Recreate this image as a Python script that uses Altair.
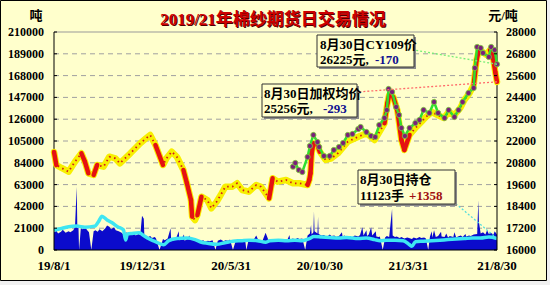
import altair as alt
import pandas as pd

# ---------------- data ----------------
avg_dates = ["2019-08-01","2019-08-05","2019-08-14","2019-08-26","2019-09-06","2019-09-17","2019-09-23","2019-09-29",
 "2019-10-08","2019-10-14","2019-10-25","2019-11-04","2019-11-14","2019-11-22","2019-12-10","2019-12-27",
 "2020-01-06","2020-01-13","2020-01-22","2020-02-04","2020-02-10","2020-02-19","2020-02-28","2020-03-10",
 "2020-03-16","2020-03-23","2020-03-25","2020-03-30","2020-04-03","2020-04-10","2020-04-20","2020-04-27",
 "2020-05-06","2020-05-13","2020-05-21","2020-06-02","2020-06-10","2020-06-19","2020-06-30","2020-07-13",
 "2020-07-21","2020-07-29","2020-08-04","2020-08-10","2020-08-19","2020-09-02","2020-09-14","2020-09-25",
 "2020-10-09","2020-10-12","2020-10-14","2020-10-16","2020-10-19","2020-10-26","2020-10-30","2020-11-09",
 "2020-11-19","2020-11-30","2020-12-17","2021-01-04","2021-01-18","2021-02-01","2021-02-18","2021-02-23",
 "2021-02-26","2021-03-05","2021-03-12","2021-03-19","2021-03-24","2021-04-02","2021-04-12","2021-04-22",
 "2021-04-30","2021-05-10","2021-05-20","2021-05-31","2021-06-08","2021-06-18","2021-06-28","2021-07-05",
 "2021-07-14","2021-07-21","2021-07-26","2021-07-30","2021-08-05","2021-08-12","2021-08-18","2021-08-23",
 "2021-08-27","2021-08-30"]
avg_values = [21395,20679,20514,20310,20861,21323,20861,20222,
 20129,20679,20586,21136,21048,20773,21323,21874,
 22149,22331,21780,20679,21048,21411,21120,20404,
 19672,18753,17833,17652,17927,18934,18753,18296,
 18659,19028,19485,19485,19672,19303,19209,19578,
 19485,19121,18846,19947,19760,19854,19672,19672,
 19578,19854,20222,21323,21874,21780,21411,20955,
 21048,21323,21962,22237,22424,22056,22975,24076,
 24533,24423,23707,22056,21505,22331,22716,23046,
 23322,23597,23432,23267,23597,23432,23817,24258,
 24643,25083,26460,27010,26900,26735,27010,26625,
 25799,25256]

cy_dates = ["2020-09-14","2020-09-18","2020-09-24","2020-09-30","2020-10-09","2020-10-13","2020-10-19","2020-10-26",
 "2020-10-29","2020-11-06","2020-11-16","2020-11-23","2020-12-02","2020-12-09","2020-12-17","2020-12-25",
 "2021-01-04","2021-01-08","2021-01-18","2021-01-26","2021-02-02","2021-02-09","2021-02-18","2021-02-22",
 "2021-02-25","2021-03-03","2021-03-10","2021-03-15","2021-03-19","2021-03-25","2021-04-02","2021-04-12",
 "2021-04-19","2021-04-26","2021-05-06","2021-05-14","2021-05-21","2021-06-01","2021-06-08","2021-06-18",
 "2021-06-25","2021-07-02","2021-07-12","2021-07-21","2021-07-23","2021-07-27","2021-08-02","2021-08-06",
 "2021-08-16","2021-08-20","2021-08-26","2021-08-30"]
cy_values = [20586,20789,20404,20294,21120,21725,22331,21945,
 21670,21175,21175,21505,21670,21890,22331,22386,
 22661,22771,22496,22276,22221,22881,23267,23707,
 24863,24698,23872,23432,22716,22276,22716,22991,
 23157,23707,23542,24147,23542,23267,23707,23322,
 23707,24147,24643,24918,26019,27175,27120,26845,
 26625,27175,27010,26225]

vol_dates = ["2019-08-01","2019-08-05","2019-08-08","2019-08-13","2019-08-16","2019-08-21","2019-08-26","2019-08-29",
 "2019-09-03","2019-09-06","2019-09-09","2019-09-10","2019-09-12","2019-09-13","2019-09-16","2019-09-19",
 "2019-09-24","2019-09-27","2019-09-30","2019-10-04","2019-10-08","2019-10-11","2019-10-15","2019-10-18",
 "2019-10-23","2019-10-28","2019-10-31","2019-11-04","2019-11-07","2019-11-12","2019-11-15","2019-11-20",
 "2019-11-25","2019-11-28","2019-12-03","2019-12-06","2019-12-11","2019-12-16","2019-12-19","2019-12-24",
 "2019-12-27","2019-12-30","2020-01-02","2020-01-03","2020-01-08","2020-01-13","2020-01-16","2020-01-21",
 "2020-01-23","2020-01-29","2020-02-04","2020-02-07","2020-02-12","2020-02-17","2020-02-18","2020-02-21",
 "2020-02-26","2020-03-02","2020-03-03","2020-03-06","2020-03-11","2020-03-12","2020-03-17","2020-03-20",
 "2020-03-23","2020-03-26","2020-03-31","2020-04-03","2020-04-08","2020-04-13","2020-04-16","2020-04-21",
 "2020-04-24","2020-04-29","2020-05-04","2020-05-08","2020-05-13","2020-05-18","2020-05-21","2020-05-26",
 "2020-05-29","2020-06-03","2020-06-08","2020-06-11","2020-06-16","2020-06-19","2020-06-24","2020-06-26",
 "2020-06-30","2020-07-03","2020-07-08","2020-07-13","2020-07-16","2020-07-21","2020-07-24","2020-07-29",
 "2020-08-03","2020-08-06","2020-08-11","2020-08-14","2020-08-19","2020-08-24","2020-08-27","2020-09-01",
 "2020-09-04","2020-09-08","2020-09-09","2020-09-14","2020-09-17","2020-09-22","2020-09-25","2020-09-30",
 "2020-10-05","2020-10-09","2020-10-13","2020-10-15","2020-10-16","2020-10-19","2020-10-20","2020-10-21",
 "2020-10-26","2020-10-27","2020-10-28","2020-11-02","2020-11-06","2020-11-11","2020-11-16","2020-11-19",
 "2020-11-24","2020-11-27","2020-12-02","2020-12-07","2020-12-08","2020-12-11","2020-12-16","2020-12-21",
 "2020-12-24","2020-12-29","2021-01-04","2021-01-07","2021-01-11","2021-01-13","2021-01-18","2021-01-19",
 "2021-01-22","2021-01-26","2021-01-28","2021-02-03","2021-02-04","2021-02-08","2021-02-10","2021-02-15",
 "2021-02-19","2021-02-22","2021-02-26","2021-03-03","2021-03-04","2021-03-08","2021-03-11","2021-03-16",
 "2021-03-19","2021-03-24","2021-03-29","2021-04-01","2021-04-06","2021-04-09","2021-04-14","2021-04-19",
 "2021-04-22","2021-04-27","2021-04-30","2021-05-04","2021-05-07","2021-05-10","2021-05-11","2021-05-14",
 "2021-05-17","2021-05-21","2021-05-26","2021-05-27","2021-06-01","2021-06-04","2021-06-07","2021-06-10",
 "2021-06-16","2021-06-18","2021-06-21","2021-06-24","2021-06-29","2021-07-02","2021-07-07","2021-07-08",
 "2021-07-13","2021-07-16","2021-07-21","2021-07-27","2021-07-29","2021-07-30","2021-08-02","2021-08-06",
 "2021-08-10","2021-08-13","2021-08-16","2021-08-19","2021-08-24","2021-08-26","2021-08-30"]
vol_values = [17000,18500,16000,17500,19500,16500,18000,17000,
 19000,22000,61000,21000,22000,0,21000,20000,
 21500,19000,17000,0,18000,19000,17500,20000,
 18000,21000,23500,22500,20000,22000,19000,18000,
 16500,15000,17000,14500,16000,17000,14000,15500,
 14500,33000,30000,13500,12000,13500,11500,12500,
 11000,0,10500,9500,11000,21000,10000,9000,
 10500,18000,9500,10000,15000,9000,10500,14000,
 9500,11000,9000,10000,8500,9500,8000,9000,
 8500,9500,0,9000,10000,8500,9500,9000,
 10000,0,9500,10000,9000,10500,9500,0,
 10000,9500,9500,14000,10000,9000,9500,16500,
 9500,10000,9000,10500,9500,9500,10500,10000,
 9500,14500,10000,11000,10000,11500,10500,11000,
 0,14000,16000,24000,15000,17000,37000,18000,
 16000,32000,15500,14000,14500,12500,15000,13500,
 14000,12500,13500,17000,13000,14000,12500,13500,
 12000,14000,13000,14500,22000,14000,19000,13500,
 15000,22000,14000,18000,13000,12500,13000,0,
 12000,13500,12500,39500,14000,12500,13000,11500,
 12500,11000,12000,11500,10500,12000,11000,12500,
 11500,12000,11000,0,13000,18000,12000,19000,
 12500,13500,17500,13000,12500,16000,12000,13500,
 12500,17000,12000,13000,14000,12500,15500,13000,
 14000,13500,15000,15500,48000,27000,16000,17000,
 15000,19000,15500,16500,15000,18000,15000]

oi_dates = ["2019-08-01","2019-08-12","2019-08-26","2019-09-09","2019-09-23","2019-10-10","2019-10-17","2019-10-22",
 "2019-10-31","2019-11-08","2019-11-18","2019-11-28","2019-12-02","2019-12-05","2019-12-13","2019-12-25",
 "2020-01-03","2020-01-10","2020-01-20","2020-02-05","2020-02-14","2020-02-28","2020-03-16","2020-03-30",
 "2020-04-10","2020-04-20","2020-05-06","2020-05-20","2020-06-03","2020-06-17","2020-07-01","2020-07-15",
 "2020-07-29","2020-08-05","2020-08-20","2020-09-03","2020-09-17","2020-09-30","2020-10-12","2020-10-20",
 "2020-11-02","2020-11-16","2020-12-01","2020-12-15","2021-01-04","2021-01-18","2021-02-01","2021-02-10",
 "2021-02-22","2021-03-08","2021-03-22","2021-04-02","2021-04-06","2021-04-12","2021-04-26","2021-05-10",
 "2021-05-24","2021-06-07","2021-06-21","2021-07-05","2021-07-19","2021-08-02","2021-08-16","2021-08-30"]
oi_values = [19000,20500,22400,23000,22000,23000,28000,32500,
 29000,26500,22500,19500,9600,15500,16000,16500,
 13500,11000,8500,5000,9000,11000,11500,10000,
 7500,6500,5500,7000,8500,9000,9500,9000,
 7500,9000,9500,9000,9500,9000,11000,13000,
 12500,12000,11500,12000,11000,11500,10000,9000,
 9500,9500,9000,5000,3500,8000,8500,9000,
 9500,10000,10500,11000,11500,11500,12500,11123]

x_tick_dates = ["2019-08-01", "2019-12-31", "2020-05-31", "2020-10-30", "2021-03-31", "2021-08-30"]
x_tick_labels = ["19/8/1", "19/12/31", "20/5/31", "20/10/30", "21/3/31", "21/8/30"]
left_ticks = [0, 21000, 42000, 63000, 84000, 105000, 126000, 147000, 168000, 189000, 210000]
right_ticks = [16000, 17200, 18400, 19600, 20800, 22000, 23200, 24400, 25600, 26800, 28000]

title_text = "2019/21年棉纱期货日交易情况"
cy_box = ["8月30日CY109价", "26225元,", "-170"]
avg_box = ["8月30日加权均价", "25256元,", "-293"]
oi_box = ["8月30日持仓", "11123手", "+1358"]

# ---------------- frames ----------------
start = pd.Timestamp(x_tick_dates[0])

def day(s):
    return (pd.to_datetime(pd.Series(s)) - start).dt.days

avg = pd.DataFrame({"t": day(avg_dates), "price": avg_values})
cy = pd.DataFrame({"t": day(cy_dates), "price": cy_values})
vol = pd.DataFrame({"t": day(vol_dates), "v": vol_values})
oi = pd.DataFrame({"t": day(oi_dates), "oi": oi_values})
xt = pd.DataFrame({"t": day(x_tick_dates), "lab": x_tick_labels})

SERIF = "Liberation Serif, Noto Sans CJK SC"
BG = "#ffffcc"
W, H = 443, 218

T0 = int(xt["t"].iloc[0])
T1 = int(xt["t"].iloc[-1])
TICK = 3 * (T1 - T0) / W      # 3 px expressed in days

def hlines(values, t0, t1):
    rows = []
    for i, v in enumerate(values):
        rows.append({"t": t0, "v": v, "g": i, "o": 0})
        rows.append({"t": t1, "v": v, "g": i, "o": 1})
    return pd.DataFrame(rows)

lt = pd.DataFrame({"v": left_ticks})
rt = pd.DataFrame({"v": right_ticks})
lt_lines = hlines(left_ticks, T0, T0 + TICK)
rt_lines = hlines(right_ticks, T1 - TICK, T1)
gd_lines = hlines(left_ticks[1:-1], T0, T1)
top_line = hlines([left_ticks[-1]], T0, T1)
bottom_line = hlines([left_ticks[0]], T0, T1)
side_lines = pd.DataFrame({"t": [T0, T0, T1, T1],
                           "v": [left_ticks[0], left_ticks[-1], left_ticks[0], left_ticks[-1]],
                           "g": [0, 0, 1, 1], "o": [0, 1, 0, 1]})

seg = avg.copy()
seg["t2"] = avg["t"].shift(-1)
seg["price2"] = avg["price"].shift(-1)
seg = seg.dropna()
seg = seg[(seg["price2"] - seg["price"]).abs() / (seg["t2"] - seg["t"]) > 70]

xscale = alt.Scale(domain=[T0, T1], nice=False, zero=False)
lscale = alt.Scale(domain=[left_ticks[0], left_ticks[-1]], nice=False, zero=False)
rscale = alt.Scale(domain=[right_ticks[0], right_ticks[-1]], nice=False, zero=False)

def X(field="t"):
    return alt.X(f"{field}:Q", scale=xscale, axis=None)

def YL(field):
    return alt.Y(f"{field}:Q", scale=lscale, axis=None)

def YR(field):
    return alt.Y(f"{field}:Q", scale=rscale, axis=None)

one = pd.DataFrame({"k": [0]})

def box(x1, y1, x2, y2):
    sh = alt.Chart(one).mark_rect(fill="#8a8a8a").encode(
        x=alt.value(x1 + 2), x2=alt.value(x2 + 2), y=alt.value(y1 + 2), y2=alt.value(y2 + 2))
    bx = alt.Chart(one).mark_rect(fill=BG, stroke="#333333", strokeWidth=1).encode(
        x=alt.value(x1), x2=alt.value(x2), y=alt.value(y1), y2=alt.value(y2))
    return [sh, bx]

def txt(s, x, y, color="black", size=13, align="left"):
    return alt.Chart(one).mark_text(text=s, font=SERIF, fontWeight="bold", fontSize=size,
                                    color=color, align=align, baseline="alphabetic").encode(
        x=alt.value(x), y=alt.value(y))

def guide(df, Y, color, dash=None):
    kw = dict(color=color, strokeWidth=1)
    if dash:
        kw["strokeDash"] = dash
    return alt.Chart(df).mark_line(**kw).encode(
        x=X("t"), y=Y("v"), detail=alt.Detail("g:N"), order=alt.Order("o:Q"))

# ---------- left-axis group (volume / open interest) ----------
grid = guide(gd_lines, YL, "#a0a0a0", dash=[5, 4])
top = guide(top_line, YL, "#999999")
ltick = guide(lt_lines, YL, "black")
sides = guide(side_lines, YL, "black")
bottom = guide(bottom_line, YL, "black")
llab = alt.Chart(lt).mark_text(font=SERIF, fontWeight="bold", fontSize=12, color="black",
                               align="right", baseline="middle").encode(
    y=YL("v"), x=alt.value(-10), text=alt.Text("v:Q", format="d"))
xlab = alt.Chart(xt).mark_text(font=SERIF, fontWeight="bold", fontSize=13, color="black",
                               align="center", baseline="top").encode(
    x=X(), y=alt.value(H + 10), text="lab:N")

vol_area = alt.Chart(vol).mark_area(color="#0b0bcc", interpolate="linear").encode(
    x=X(), y=YL("v"))
oi_line = alt.Chart(oi).mark_line(color="#3ee6f2", strokeWidth=3.5, interpolate="monotone").encode(
    x=X(), y=YL("oi"))
oi_lead = alt.Chart(oi.tail(1)).mark_rule(color="#55dddd", strokeWidth=1.3, strokeDash=[2, 2]).encode(
    x=X(), y=YL("oi"), x2=alt.value(401), y2=alt.value(171))
left = alt.layer(grid, top, vol_area, oi_line, oi_lead, ltick, sides, bottom, llab, xlab)

# ---------- right-axis group (prices) ----------
rtick = guide(rt_lines, YR, "black")
rlab = alt.Chart(rt).mark_text(font=SERIF, fontWeight="bold", fontSize=12, color="black",
                               align="left", baseline="middle").encode(
    y=YR("v"), x=alt.value(W + 9), text=alt.Text("v:Q", format="d"))

avg_line = alt.Chart(avg).mark_line(color="#f7ef00", strokeWidth=6.5, strokeJoin="round",
                                    strokeCap="round").encode(x=X(), y=YR("price"))
red_seg = alt.Chart(seg).mark_rule(color="#e81010", strokeWidth=4.5, strokeCap="round").encode(
    x=X(), x2="t2:Q", y=YR("price"), y2="price2:Q")
red_dots = alt.Chart(avg).mark_line(color="#d41a1a", strokeWidth=1.8, strokeDash=[1.5, 3.5]).encode(
    x=X(), y=YR("price"))
cy_line = alt.Chart(cy).mark_line(color="#2ee02e", strokeWidth=2.5).encode(x=X(), y=YR("price"))
cy_pts = alt.Chart(cy).mark_point(filled=True, fill="#7a1f7a", stroke="#7fd23a", strokeWidth=0.8,
                                  size=28, opacity=1).encode(x=X(), y=YR("price"))
avg_lead = alt.Chart(avg.tail(1)).mark_rule(color="#ff6a6a", strokeWidth=1.3, strokeDash=[2, 2]).encode(
    x=X(), y=YR("price"), x2=alt.value(303), y2=alt.value(60))
cy_lead = alt.Chart(cy.tail(1)).mark_rule(color="#77ee77", strokeWidth=1.3, strokeDash=[2, 2]).encode(
    x=X(), y=YR("price"), x2=alt.value(360), y2=alt.value(18))

# frame and annotations
ann = [
    alt.Chart(one).mark_rect(filled=False, stroke="black", strokeWidth=1).encode(
        x=alt.value(-53.5), x2=alt.value(492.5), y=alt.value(-31.5), y2=alt.value(248.5)),
    alt.Chart(one).mark_rect(fill="#f0f0f0").encode(
        x=alt.value(493), x2=alt.value(496), y=alt.value(-32), y2=alt.value(253)),
    alt.Chart(one).mark_rect(fill="#f0f0f0").encode(
        x=alt.value(-54), x2=alt.value(496), y=alt.value(249), y2=alt.value(253)),
]
ann += box(263, 3, 360, 35)
ann += [txt(cy_box[0], 266, 17), txt(cy_box[1], 266, 31.5), txt(cy_box[2], 321, 31.5, color="#101090")]
ann += box(208, 52, 303, 85)
ann += [txt(avg_box[0], 210, 66), txt(avg_box[1], 210, 80.5), txt(avg_box[2], 269, 80.5, color="#101090")]
ann += box(304, 138, 401, 172)
ann += [txt(oi_box[0], 306, 152), txt(oi_box[1], 306, 167.5), txt(oi_box[2], 355, 167.5, color="#a01010")]
ann += [txt(title_text, 220, -6, color="#500000", size=17, align="center"),
        txt(title_text, 219, -7, color="#cc0000", size=17, align="center"),
        txt("吨", -18, -12, size=13, align="center"),
        txt("元/吨", 449, -12, size=13, align="center")]

right = alt.layer(avg_line, red_seg, red_dots, cy_line, cy_pts, avg_lead, cy_lead,
                  rtick, rlab, *ann)

chart = alt.layer(left, right).resolve_scale(y="independent").properties(
    width=W, height=H,
    padding={"left": 54, "top": 32, "right": 53, "bottom": 35},
    autosize=alt.AutoSizeParams(type="none"),
    background=BG,
).configure_view(stroke=None)

chart.save("out.html", embed_options={"renderer": "svg", "actions": False})
